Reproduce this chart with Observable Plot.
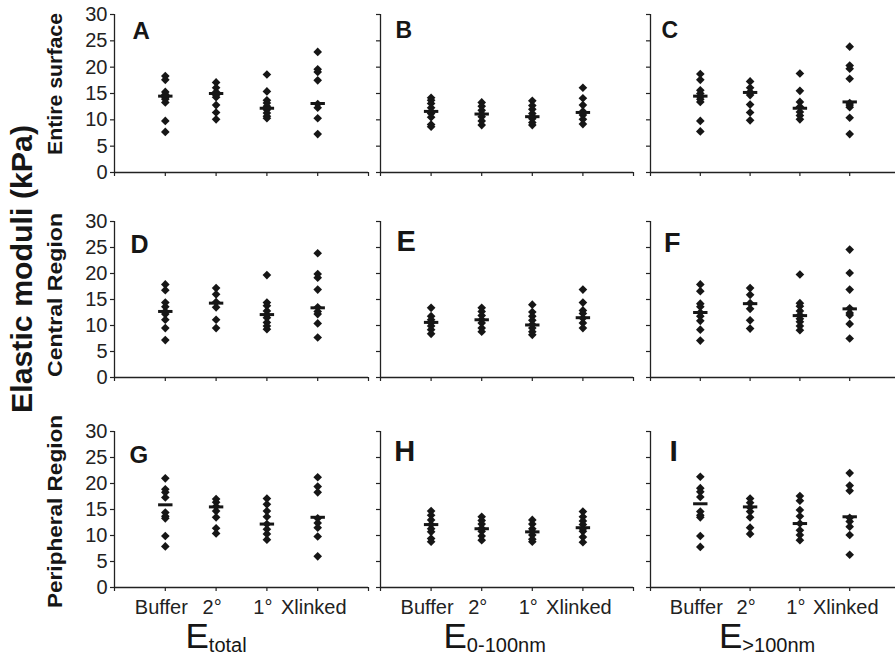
<!DOCTYPE html>
<html><head><meta charset="utf-8">
<script src="https://cdn.jsdelivr.net/npm/d3@7"></script>
<script src="https://cdn.jsdelivr.net/npm/@observablehq/plot@0.6"></script>
<style>
html,body{margin:0;padding:0;background:#fff;}
#fig{position:relative;width:895px;height:657px;overflow:hidden;font-family:"Liberation Sans",Arial,sans-serif;}
#fig svg{position:absolute;}
</style></head><body><div id="fig"></div>
<script>
// ---------- data ----------
const categories = ["Buffer", "2°", "1°", "Xlinked"];
const panelLetters = ["A","B","C","D","E","F","G","H","I"];
const rowLabels = ["Entire surface", "Central Region", "Peripheral Region"];
const yAxisTitle = "Elastic moduli (kPa)";
const columnTitles = [["E","total"], ["E","0-100nm"], ["E",">100nm"]];
const yTicks = [0, 5, 10, 15, 20, 25, 30];
const xTicks = [0, 1, 2, 3, 4, 5];

const valuesA = [[18.3,17.6,15.3,14.8,14.2,13.9,13.3,9.8,7.7],[17.1,16.1,15.3,14.7,14.3,12.8,11.4,10.1],[18.6,15.4,13.7,13.2,12.6,11.9,11.3,10.7,10.3],[22.9,19.6,19.1,17.5,13.0,12.3,10.3,7.3]];
const meansA = [14.5, 15.0, 12.2, 13.1];
const valuesB = [[14.2,13.7,13.1,12.3,11.6,11.2,10.5,9.1,8.7],[13.3,12.6,11.8,11.1,10.6,9.8,9.0],[13.6,12.7,12.0,11.2,10.6,10.2,9.5,9.0],[16.1,14.1,12.8,11.6,10.9,10.1,9.2]];
const meansB = [11.6, 11.1, 10.6, 11.4];
const valuesC = [[18.7,17.6,15.6,15.0,14.4,13.9,13.4,9.8,7.8],[17.3,16.1,15.3,14.7,12.9,11.4,9.9],[18.8,15.5,13.4,12.5,11.5,10.8,10.1],[23.9,20.3,19.7,17.8,13.2,12.8,12.4,10.4,7.3]];
const meansC = [14.5, 15.2, 12.2, 13.4];
const valuesD = [[17.9,16.8,14.4,13.6,12.7,12.2,11.1,9.5,7.2],[17.2,16.0,14.5,13.5,11.1,9.5],[19.7,14.4,13.8,12.8,12.0,11.5,10.6,9.9,9.3],[23.9,19.9,19.2,16.9,13.5,12.7,12.2,10.4,7.7]];
const meansD = [12.7, 14.3, 12.1, 13.4];
const valuesE = [[13.4,11.8,11.1,10.5,9.9,9.2,8.4],[13.4,12.7,11.9,11.1,10.5,9.5,8.8],[14.0,12.6,11.8,11.0,10.2,9.5,8.8,8.2],[16.9,14.4,12.9,12.3,11.4,10.5,9.5]];
const meansE = [10.6, 11.1, 10.1, 11.5];
const valuesF = [[17.9,16.6,14.2,13.6,12.5,11.8,10.9,9.2,7.1],[17.2,15.9,14.3,13.2,11.0,9.4],[19.8,14.3,13.7,12.8,12.0,11.3,10.7,9.9,9.1],[24.6,20.1,16.9,13.3,12.4,12.0,10.3,7.5]];
const meansF = [12.5, 14.2, 11.9, 13.2];
const valuesG = [[21.0,18.9,18.3,17.3,14.4,13.7,13.3,9.9,7.9],[17.0,16.4,15.6,14.7,13.5,11.4,10.4],[17.1,16.0,14.7,13.6,12.2,11.2,10.3,9.2],[21.2,19.4,18.3,13.3,12.4,11.5,9.8,6.0]];
const meansG = [15.9, 15.5, 12.2, 13.5];
const valuesH = [[14.7,13.9,13.0,12.1,11.3,10.7,9.4,8.8],[13.6,12.9,12.2,11.4,10.8,9.9,9.1],[13.0,12.2,11.3,10.7,10.1,9.3,8.8],[14.6,13.6,12.8,12.1,11.3,10.8,9.7,8.7]];
const meansH = [12.1, 11.3, 10.7, 11.5];
const valuesI = [[21.3,19.1,18.4,17.4,14.6,13.9,13.5,9.9,7.8],[17.1,16.3,15.4,14.6,13.5,11.5,10.3],[17.6,16.7,14.9,13.7,12.3,11.0,10.1,9.1],[22.0,19.6,18.6,13.4,12.7,11.7,10.1,6.3]];
const meansI = [16.1, 15.5, 12.3, 13.6];

const panelValues = [valuesA, valuesB, valuesC, valuesD, valuesE, valuesF, valuesG, valuesH, valuesI];
const panelMeans = [meansA, meansB, meansC, meansD, meansE, meansF, meansG, meansH, meansI];

// ---------- layout / style ----------
const colX = [114, 380, 650];
const colUnit = [50.8, 50.6, 49.8];
const rowTop = [14.3, 220.7, 430.7];
const rowSpan = [158, 156, 156];
const letterDx = [18, 15, 11, 16, 16, 13.5, 15, 13.7, 19];
const letterDy = [7.4, 7.4, 7.4, 13.6, 9.3, 11.3, 14.3, 9.3, 8.6];
const letterSize = [24, 23, 23, 25, 29, 27, 24, 29, 30];
const ink = "#161616";
const axisColor = "#222";
const tickFont = 20;
const fontFamily = "'Liberation Sans', Arial, Helvetica, sans-serif";

const meanBar = {
  draw(ctx, size) {
    const r = Math.sqrt(size / Math.PI);
    ctx.moveTo(-r, 0);
    ctx.lineTo(r, 0);
  }
};

const fig = document.getElementById("fig");

for (let p = 0; p < 9; p++) {
  const r = Math.floor(p / 3), c = p % 3;
  const ml = c === 0 ? 114 : 20, mr = 12, mt = 10, mb = r === 2 ? 40 : 12;
  const width = ml + 5 * colUnit[c] + mr;
  const height = mt + rowSpan[r] + mb;
  const points = panelValues[p].flatMap((vals, i) => vals.map(v => ({pos: i + 1, value: v})));
  const means = panelMeans[p].map((v, i) => ({pos: i + 1, value: v}));
  const marks = [
    Plot.ruleX([0], {stroke: axisColor, strokeWidth: 1.3}),
    Plot.ruleY([0], {stroke: axisColor, strokeWidth: 1.3}),
    Plot.axisY({ticks: yTicks, tickSize: 4, tickPadding: 3, strokeWidth: 1.2,
      tickFormat: c === 0 ? (d => String(d)) : (() => ""), label: null, fontSize: tickFont}),
    Plot.axisX({ticks: xTicks, tickSize: 4, strokeWidth: 1.2, tickFormat: () => "", label: null}),
    Plot.dot(points, {x: "pos", y: "value", symbol: "diamond2", r: 3.9, fill: ink, stroke: "none"}),
    Plot.dot(means, {x: "pos", y: "value", symbol: meanBar, r: 7.2, fill: "none", stroke: ink, strokeWidth: 3}),
    Plot.text([panelLetters[p]], {text: d => d, frameAnchor: "top-left", dx: letterDx[p], dy: letterDy[p],
      textAnchor: "start", lineAnchor: "top", fontSize: letterSize[p], fontWeight: "bold", fill: ink})
  ];
  if (r === 2) {
    marks.push(Plot.axisX({ticks: [1, 2, 3, 4], tickSize: 0, tickPadding: 12.4, dx: -4,
      tickFormat: d => categories[d - 1], label: null, fontSize: tickFont}));
  }
  const svg = Plot.plot({
    width, height,
    marginLeft: ml, marginRight: mr, marginTop: mt, marginBottom: mb,
    x: {domain: [0, 5], axis: null},
    y: {domain: [0, 30], axis: null},
    style: {background: "transparent", overflow: "visible", fontFamily, fontSize: tickFont + "px", color: axisColor, maxWidth: "none"},
    marks
  });
  svg.style.position = "absolute";
  svg.style.left = (colX[c] - ml) + "px";
  svg.style.top = (rowTop[r] - mt) + "px";
  fig.appendChild(svg);
}

// ---------- labels overlay ----------
const overlay = d3.select(fig).append("svg")
  .attr("width", 895).attr("height", 657)
  .style("left", "0px").style("top", "0px")
  .style("font-family", fontFamily);

const rowCenter = [84, 295, 511.5];
const rowLen = [142, 164, 193];
rowLabels.forEach((t, i) => {
  overlay.append("text")
    .attr("transform", `translate(61.5,${rowCenter[i]}) rotate(-90)`)
    .attr("text-anchor", "middle")
    .attr("font-size", 21).attr("font-weight", "bold").attr("fill", ink)
    .attr("textLength", rowLen[i]).attr("lengthAdjust", "spacingAndGlyphs")
    .text(t);
});

overlay.append("text")
  .attr("transform", "translate(31.5,269) rotate(-90)")
  .attr("text-anchor", "middle")
  .attr("font-size", 30).attr("font-weight", "bold").attr("fill", ink)
  .attr("textLength", 288).attr("lengthAdjust", "spacingAndGlyphs")
  .text(yAxisTitle);

const titleX = [185.5, 443.5, 719];
columnTitles.forEach(([main, sub], i) => {
  const t = overlay.append("text")
    .attr("x", titleX[i]).attr("y", 648)
    .attr("font-size", 35).attr("fill", ink);
  t.append("tspan").text(main);
  t.append("tspan").attr("font-size", 20).attr("dy", 4).text(sub);
});
</script>
</body></html>
